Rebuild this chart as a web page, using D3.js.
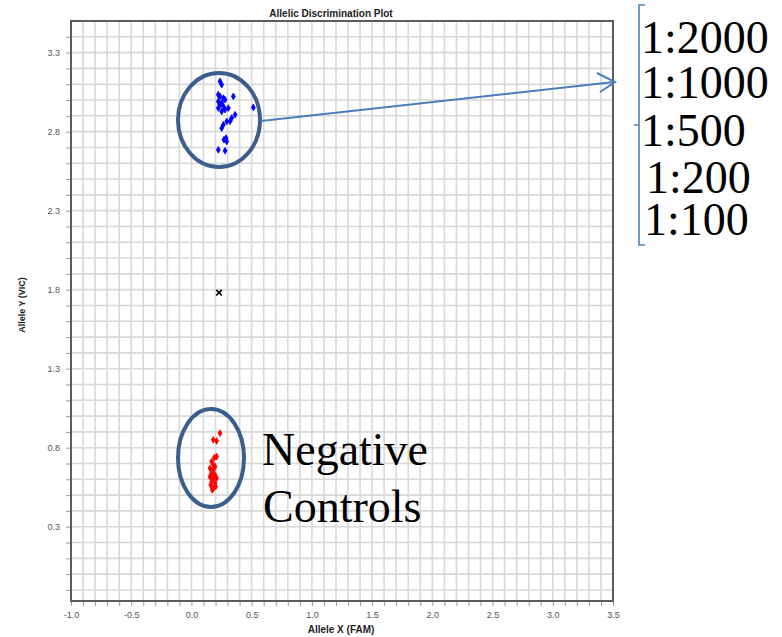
<!DOCTYPE html>
<html>
<head>
<meta charset="utf-8">
<script src="https://cdn.jsdelivr.net/npm/d3@7"></script>
<style>
  html, body { margin: 0; padding: 0; background: #fff; }
  svg { display: block; }
</style>
</head>
<body>
<svg id="chart" width="782" height="637"></svg>
<script>
// ---------------- DATA ----------------
const chartTitle = "Allelic Discrimination Plot";
const xAxisTitle = "Allele X (FAM)";
const yAxisTitle = "Allele Y (VIC)";

// Positive samples (blue, VIC)
const blueX = [0.237, 0.251, 0.223, 0.237, 0.265, 0.223, 0.251, 0.279, 0.348, 0.237, 0.265, 0.223, 0.251,
               0.279, 0.306, 0.334, 0.362, 0.293, 0.265, 0.251, 0.320, 0.287, 0.270, 0.293, 0.223, 0.279, 0.514];
const blueY = [3.118, 3.097, 3.034, 3.023, 3.012, 2.991, 2.981, 3.002, 3.023, 2.970, 2.960, 2.949, 2.928,
               2.939, 2.949, 2.886, 2.907, 2.865, 2.844, 2.822, 2.865, 2.759, 2.749, 2.738, 2.685, 2.679, 2.953];

// Negative controls (red)
const redX = [0.237, 0.181, 0.209, 0.209, 0.190, 0.168, 0.181, 0.196, 0.154, 0.181, 0.168, 0.196, 0.154,
              0.181, 0.209, 0.168, 0.196, 0.160, 0.181, 0.201, 0.173];
const redY = [0.892, 0.850, 0.843, 0.744, 0.737, 0.712, 0.695, 0.680, 0.670, 0.659, 0.638, 0.628, 0.617,
              0.607, 0.607, 0.585, 0.575, 0.564, 0.543, 0.554, 0.533];

// Undetermined (black x)
const undetX = [0.229];
const undetY = [1.781];

const xTickLabels = ["-1.0", "-0.5", "0.0", "0.5", "1.0", "1.5", "2.0", "2.5", "3.0", "3.5"];
const yTickLabels = ["0.3", "0.8", "1.3", "1.8", "2.3", "2.8", "3.3"];
const dilutions = ["1:2000", "1:1000", "1:500", "1:200", "1:100"];
const negLabel = ["Negative", "Controls"];

// ---------------- LAYOUT ----------------
const W = 782, H = 637;
const plot = { left: 71, right: 613, top: 21, bottom: 601 };
const xDomain = [-1.0, 3.5], yDomain = [-0.17, 3.5];

const svg = d3.select("#chart");
svg.append("rect").attr("width", W).attr("height", H).attr("fill", "#fff");

const x = d3.scaleLinear().domain(xDomain).range([plot.left, plot.right]);
const y = d3.scaleLinear().domain(yDomain).range([plot.bottom, plot.top]);

const xMinor = d3.range(-10, 36).map(i => +(i / 10).toFixed(1));
const yMinor = d3.range(-1, 35).map(i => +(i / 10).toFixed(1));
const xMajorSet = new Set(xTickLabels.map(Number));
const yMajorSet = new Set(yTickLabels.map(Number));

// grid
const grid = svg.append("g").attr("stroke", "#d8d8d8").attr("stroke-width", 1.6);
grid.selectAll("line.vx").data(xMinor.filter(v => v > xDomain[0] && v < xDomain[1]))
  .join("line").attr("x1", d => x(d)).attr("x2", d => x(d))
  .attr("y1", plot.top).attr("y2", plot.bottom);
grid.selectAll("line.hy").data(yMinor.filter(v => v > yDomain[0] && v < yDomain[1]))
  .join("line").attr("y1", d => y(d)).attr("y2", d => y(d))
  .attr("x1", plot.left).attr("x2", plot.right);

// axes
const fontSans = "Arial, 'Liberation Sans', sans-serif";
const xAxis = d3.axisBottom(x).tickValues(xMinor).tickSize(5).tickPadding(6)
  .tickFormat(d => xMajorSet.has(d) ? xTickLabels.find(t => Number(t) === d) : "");
const yAxis = d3.axisLeft(y).tickValues(yMinor).tickSize(5).tickPadding(6)
  .tickFormat(d => yMajorSet.has(d) ? yTickLabels.find(t => Number(t) === d) : "");

const gx = svg.append("g").attr("transform", `translate(0,${plot.bottom})`).call(xAxis);
const gy = svg.append("g").attr("transform", `translate(${plot.left},0)`).call(yAxis);
[gx, gy].forEach(g => {
  g.select(".domain").remove();
  g.selectAll(".tick line").attr("stroke", "#9a9a9a").attr("stroke-width", 1);
  g.selectAll(".tick text").attr("fill", "#555").attr("font-size", 9).attr("font-family", fontSans);
});

// frame
svg.append("rect").attr("x", plot.left).attr("y", plot.top)
  .attr("width", plot.right - plot.left).attr("height", plot.bottom - plot.top)
  .attr("fill", "none").attr("stroke", "#5c5c5c").attr("stroke-width", 2);

// titles
svg.append("text").attr("x", 331).attr("y", 17).attr("text-anchor", "middle")
  .attr("font-family", fontSans).attr("font-weight", "bold").attr("font-size", 10)
  .attr("fill", "#222").text(chartTitle);
svg.append("text").attr("x", 341).attr("y", 633).attr("text-anchor", "middle")
  .attr("font-family", fontSans).attr("font-weight", "bold").attr("font-size", 10)
  .attr("fill", "#222").text(xAxisTitle);
svg.append("text").attr("transform", "translate(25,305) rotate(-90)").attr("text-anchor", "middle")
  .attr("font-family", fontSans).attr("font-weight", "bold").attr("font-size", 9)
  .attr("fill", "#222").text(yAxisTitle);

// points
const diamond = d3.symbol().type(d3.symbolDiamond).size(13);
const blueData = blueX.map((v, i) => ({ x: v, y: blueY[i] }));
const redData = redX.map((v, i) => ({ x: v, y: redY[i] }));
const undetData = undetX.map((v, i) => ({ x: v, y: undetY[i] }));

svg.append("g").selectAll("path").data(blueData).join("path")
  .attr("d", diamond).attr("transform", d => `translate(${x(d.x)},${y(d.y)})`)
  .attr("fill", "#0000ff").attr("stroke", "#0000ff").attr("stroke-width", 0.8);
svg.append("g").selectAll("path").data(redData).join("path")
  .attr("d", diamond).attr("transform", d => `translate(${x(d.x)},${y(d.y)})`)
  .attr("fill", "#ff0000").attr("stroke", "#ff0000").attr("stroke-width", 0.8);
svg.append("g").selectAll("path").data(undetData).join("path")
  .attr("d", d3.symbol().type(d3.symbolTimes).size(22))
  .attr("transform", d => `translate(${x(d.x)},${y(d.y)})`)
  .attr("fill", "none").attr("stroke", "#000").attr("stroke-width", 1.6);

// ---------------- ANNOTATIONS ----------------
const ellipseColor = "#3b5e8c";
svg.append("ellipse").attr("cx", 219).attr("cy", 120).attr("rx", 41).attr("ry", 47)
  .attr("fill", "none").attr("stroke", ellipseColor).attr("stroke-width", 4);
svg.append("ellipse").attr("cx", 211).attr("cy", 458).attr("rx", 33).attr("ry", 49)
  .attr("fill", "none").attr("stroke", ellipseColor).attr("stroke-width", 4);

const arrowColor = "#4a7ebb";
svg.append("line").attr("x1", 261).attr("y1", 121).attr("x2", 614).attr("y2", 82)
  .attr("stroke", arrowColor).attr("stroke-width", 2);
svg.append("path").attr("d", "M597,73 L615,82 L600,92")
  .attr("fill", "none").attr("stroke", arrowColor).attr("stroke-width", 2);

// bracket
svg.append("path").attr("d", "M645,5 H639 V245 H645 M639,125 H634")
  .attr("fill", "none").attr("stroke", "#4f81bd").attr("stroke-width", 1.6);

const serif = "'Times New Roman', 'Liberation Serif', serif";
const dilX = [641, 641, 641, 646, 644];
const dilY = [53, 98, 146, 193, 235];
svg.append("g").selectAll("text").data(dilutions).join("text")
  .attr("x", (d, i) => dilX[i]).attr("y", (d, i) => dilY[i])
  .attr("font-family", serif).attr("font-size", 46).attr("fill", "#000").text(d => d);

svg.append("g").selectAll("text").data(negLabel).join("text")
  .attr("x", (d, i) => i === 0 ? 262 : 263).attr("y", (d, i) => i === 0 ? 465 : 522)
  .attr("font-family", serif).attr("font-size", 46).attr("fill", "#000").text(d => d);
</script>
</body>
</html>
